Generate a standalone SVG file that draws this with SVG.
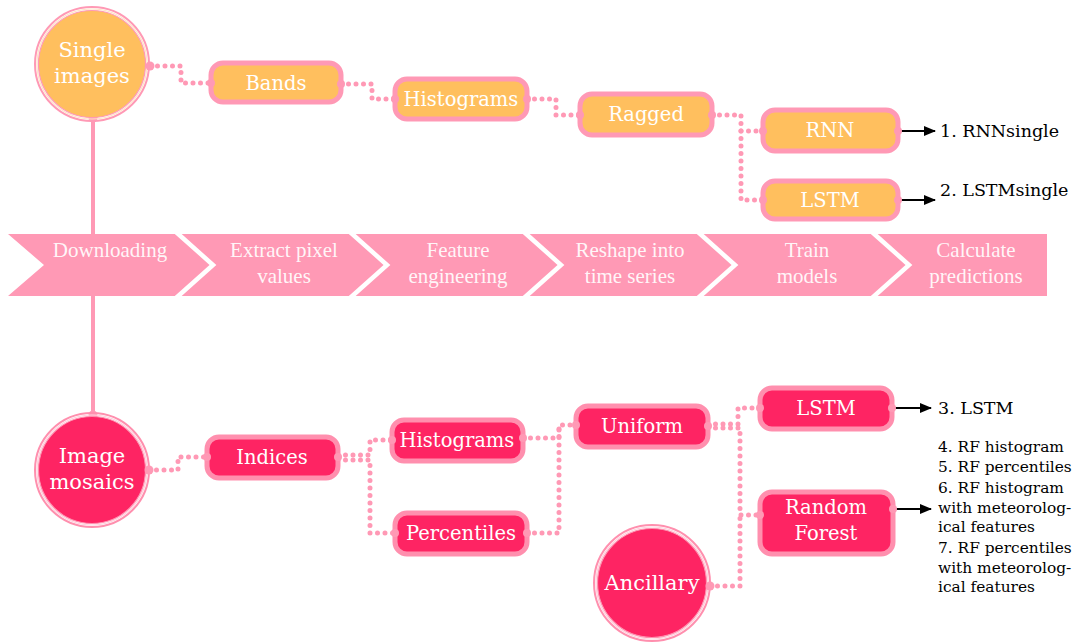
<svg xmlns="http://www.w3.org/2000/svg" width="1080" height="644" viewBox="0 0 1080 644">
<style>
.dot{fill:none;stroke:#FF99B5;stroke-width:5;stroke-linecap:round;stroke-dasharray:0 7.5}
.end{fill:#FF99B5}
.bo{fill:#FFBF5E;stroke:#FF99B5;stroke-width:5}
.bm{fill:#FE2463;stroke:#FF8FAE;stroke-width:5}
.nt{font-family:"DejaVu Serif","Liberation Serif",serif;font-size:19.5px;fill:#fff;text-anchor:middle}
.ct{font-family:"DejaVu Serif","Liberation Serif",serif;font-size:21px;fill:#fff;text-anchor:middle}
.bt{font-family:"Liberation Serif",serif;font-size:21px;fill:#fff;fill-opacity:0.92;text-anchor:middle}
.ot{font-family:"DejaVu Serif","Liberation Serif",serif;font-size:17.5px;fill:#000}
.rt{font-family:"DejaVu Serif","Liberation Serif",serif;font-size:15.4px;fill:#000}
.arr{stroke:#000;stroke-width:2.2;fill:none;marker-end:url(#ah)}
.sep{fill:none;stroke:#fff;stroke-width:4.5}
</style>
<defs>
<marker id="ah" viewBox="0 0 12 10" refX="11" refY="5" markerWidth="13" markerHeight="10" markerUnits="userSpaceOnUse" orient="auto">
<path d="M0,0 L12,5 L0,10 Z" fill="#000"/>
</marker>
</defs>
<rect width="1080" height="644" fill="#fff"/>

<g id="spine">
<line x1="93" y1="118" x2="93" y2="415" stroke="#FF99B5" stroke-width="4"/>
<circle cx="93" cy="118" r="4.5" class="end"/>
<circle cx="93" cy="415" r="4.5" class="end"/>
</g>

<g id="banner">
<polygon points="8,234 1047,234 1047,296 8,296 44,265" fill="#FF99B5"/>
<polyline class="sep" points="176,232 213,265 176,298"/>
<polyline class="sep" points="350,232 387,265 350,298"/>
<polyline class="sep" points="524,232 561,265 524,298"/>
<polyline class="sep" points="698,232 735,265 698,298"/>
<polyline class="sep" points="872,232 909,265 872,298"/>
<text class="bt" x="110" y="257">Downloading</text>
<text class="bt" x="284" y="257">Extract pixel</text>
<text class="bt" x="284" y="283">values</text>
<text class="bt" x="458" y="257">Feature</text>
<text class="bt" x="458" y="283">engineering</text>
<text class="bt" x="630" y="257">Reshape into</text>
<text class="bt" x="630" y="283">time series</text>
<text class="bt" x="807" y="257">Train</text>
<text class="bt" x="807" y="283">models</text>
<text class="bt" x="976" y="257">Calculate</text>
<text class="bt" x="976" y="283">predictions</text>
</g>

<g id="connectors">
<path class="dot" d="M150,66 H181 V83 H211"/>
<path class="dot" d="M341,84 H372 V99 H395"/>
<path class="dot" d="M527,99 H556 V115 H580"/>
<path class="dot" d="M712,115 H741 V131 H763"/>
<path class="dot" d="M741,131 V200 H763"/>
<path class="dot" d="M149,470 H178 V457 H207"/>
<path class="dot" d="M338,455 H370 V440 H392"/>
<path class="dot" d="M338,460 H370 V533 H395"/>
<path class="dot" d="M523,438 H559 V425 H576"/>
<path class="dot" d="M527,533 H559 V425"/>
<path class="dot" d="M708,424 H738 V408 H760"/>
<path class="dot" d="M708,428 H740 V515 H760"/>
<path class="dot" d="M710,586 H740 V515"/>
<path class="arr" d="M898,131 H935"/>
<path class="arr" d="M898,200 H935"/>
<path class="arr" d="M892,408 H931"/>
<path class="arr" d="M893,509 H931"/>
</g>

<g id="single-images">
<circle cx="92" cy="64" r="57" fill="none" stroke="#FF99B5" stroke-width="2"/>
<circle cx="92" cy="64" r="55" fill="none" stroke="#FFE3C8" stroke-width="1.2"/>
<circle cx="92" cy="64" r="53.5" fill="#FFBF5E" stroke="#FF99B5" stroke-width="1.2"/>
<text class="ct" x="92" y="57">Single</text>
<text class="ct" x="92" y="83">images</text>
<circle cx="150" cy="66" r="4.5" class="end"/>
</g>

<g id="bands">
<rect class="bo" x="211" y="63" width="130" height="39" rx="12"/>
<text class="nt" x="276" y="90">Bands</text>
<circle cx="211" cy="83" r="4" class="end"/><circle cx="341" cy="84" r="4" class="end"/>
</g>

<g id="histograms-top">
<rect class="bo" x="395" y="79" width="132" height="40" rx="12"/>
<text class="nt" x="461" y="106">Histograms</text>
<circle cx="395" cy="99" r="4" class="end"/><circle cx="527" cy="99" r="4" class="end"/>
</g>

<g id="ragged">
<rect class="bo" x="580" y="94" width="132" height="41" rx="12"/>
<text class="nt" x="646" y="121">Ragged</text>
<circle cx="580" cy="115" r="4" class="end"/><circle cx="712" cy="115" r="4" class="end"/>
</g>

<g id="rnn">
<rect class="bo" x="763" y="110" width="135" height="41" rx="12"/>
<text class="nt" x="830" y="137">RNN</text>
<circle cx="763" cy="131" r="4" class="end"/><circle cx="898" cy="131" r="4" class="end"/>
</g>

<g id="lstm-top">
<rect class="bo" x="763" y="181" width="135" height="38" rx="12"/>
<text class="nt" x="830" y="207">LSTM</text>
<circle cx="763" cy="200" r="4" class="end"/><circle cx="898" cy="200" r="4" class="end"/>
</g>

<g id="out-top">
<text class="ot" x="940" y="137">1. RNNsingle</text>
<text class="ot" x="940" y="196">2. LSTMsingle</text>
</g>

<g id="image-mosaics">
<circle cx="92" cy="470" r="57" fill="none" stroke="#FF8FAE" stroke-width="2"/>
<circle cx="92" cy="470" r="55" fill="none" stroke="#FFD0DC" stroke-width="1.2"/>
<circle cx="92" cy="470" r="53.5" fill="#FE2463" stroke="#FF8FAE" stroke-width="1.2"/>
<text class="ct" x="92" y="463">Image</text>
<text class="ct" x="92" y="489">mosaics</text>
<circle cx="149" cy="470" r="4.5" class="end"/>
</g>

<g id="indices">
<rect class="bm" x="207" y="437" width="131" height="41" rx="12"/>
<text class="nt" x="272" y="464">Indices</text>
<circle cx="207" cy="457" r="4" class="end"/><circle cx="338" cy="457" r="4" class="end"/>
</g>

<g id="histograms-bottom">
<rect class="bm" x="392" y="420" width="131" height="41" rx="12"/>
<text class="nt" x="457" y="447">Histograms</text>
<circle cx="392" cy="440" r="4" class="end"/><circle cx="523" cy="438" r="4" class="end"/>
</g>

<g id="percentiles">
<rect class="bm" x="395" y="513" width="132" height="41" rx="12"/>
<text class="nt" x="461" y="540">Percentiles</text>
<circle cx="395" cy="533" r="4" class="end"/><circle cx="527" cy="533" r="4" class="end"/>
</g>

<g id="uniform">
<rect class="bm" x="576" y="406" width="132" height="41" rx="12"/>
<text class="nt" x="642" y="433">Uniform</text>
<circle cx="576" cy="425" r="4" class="end"/><circle cx="708" cy="426" r="4" class="end"/>
</g>

<g id="lstm-bottom">
<rect class="bm" x="760" y="388" width="132" height="41" rx="12"/>
<text class="nt" x="826" y="415">LSTM</text>
<circle cx="760" cy="408" r="4" class="end"/><circle cx="892" cy="408" r="4" class="end"/>
</g>

<g id="random-forest">
<rect class="bm" x="760" y="492" width="133" height="62" rx="12"/>
<text class="nt" x="826" y="514">Random</text>
<text class="nt" x="826" y="540">Forest</text>
<circle cx="760" cy="515" r="4" class="end"/><circle cx="893" cy="509" r="4" class="end"/>
</g>

<g id="ancillary">
<circle cx="652" cy="583" r="58" fill="none" stroke="#FF8FAE" stroke-width="2"/>
<circle cx="652" cy="583" r="56" fill="none" stroke="#FFD0DC" stroke-width="1.2"/>
<circle cx="652" cy="583" r="54.5" fill="#FE2463" stroke="#FF8FAE" stroke-width="1.2"/>
<text class="ct" x="652" y="590">Ancillary</text>
<circle cx="710" cy="586" r="4.5" class="end"/>
</g>

<g id="out-bottom">
<text class="ot" x="938" y="414">3. LSTM</text>
<text class="rt" x="938" y="452">4. RF histogram</text>
<text class="rt" x="938" y="472">5. RF percentiles</text>
<text class="rt" x="938" y="493">6. RF histogram</text>
<text class="rt" x="938" y="513">with meteorolog-</text>
<text class="rt" x="938" y="532">ical features</text>
<text class="rt" x="938" y="553">7. RF percentiles</text>
<text class="rt" x="938" y="573">with meteorolog-</text>
<text class="rt" x="938" y="592">ical features</text>
</g>
</svg>
